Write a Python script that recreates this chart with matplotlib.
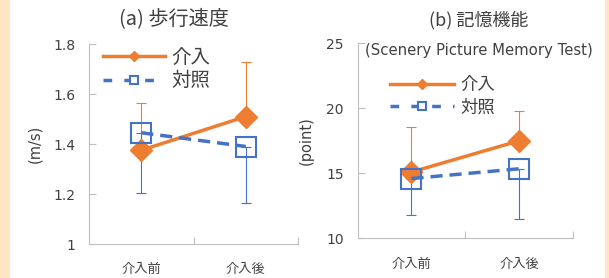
import matplotlib
matplotlib.use("Agg")
import matplotlib.pyplot as plt
from matplotlib.lines import Line2D

plt.rcParams['font.family'] = ['Noto Sans CJK JP', 'DejaVu Sans']

categories = ['介入前', '介入後']
series_names = ['介入', '対照']

# (a) walking speed
speed_int = [1.375, 1.51]
speed_int_err = [0.19, 0.22]      # upper only
speed_ctl = [1.445, 1.39]
speed_ctl_err = [0.24, 0.225]     # lower only

# (b) memory
mem_int = [15.1, 17.5]
mem_int_err = [3.45, 2.3]         # upper only
mem_ctl = [14.6, 15.35]
mem_ctl_err = [2.8, 3.9]          # lower only

ORANGE = '#ED7D31'
BLUE = '#4472C4'
GRAY = '#BFBFBF'
TXT = '#404040'
LATIN = 'DejaVu Sans'

fig = plt.figure(figsize=(6.09, 2.78), dpi=100)
fig.patch.set_facecolor('white')
# peach edge strips
fig.patches.append(plt.Rectangle((0, 0), 10/609, 1, transform=fig.transFigure,
                                 facecolor='#FEE6C5', edgecolor='none', zorder=0))
fig.patches.append(plt.Rectangle((605/609, 0), 4/609, 1, transform=fig.transFigure,
                                 facecolor='#FEE6C5', edgecolor='none', zorder=0))

ax1 = fig.add_axes([89/609, 1-244/278, 209/609, 200/278])
ax2 = fig.add_axes([357.7/609, 1-238.3/278, 215/609, 194.9/278])


def draw(ax, ivals, ierr, cvals, cerr, ylim, yticks, yticklabels, ylabel):
    x = list(range(len(categories)))
    ax.errorbar(x, ivals, yerr=[[0]*len(ierr), ierr], fmt='none', ecolor=ORANGE,
                elinewidth=0.8, capsize=3.5, capthick=0.8, zorder=2)
    ax.errorbar(x, cvals, yerr=[cerr, [0]*len(cerr)], fmt='none', ecolor=BLUE,
                elinewidth=0.8, capsize=3.5, capthick=0.8, zorder=2)
    ax.plot(x, ivals, color=ORANGE, lw=2.5, marker='D', markersize=11,
            markerfacecolor=ORANGE, markeredgecolor=ORANGE, zorder=3)
    ax.plot(x, cvals, color=BLUE, lw=2.5, dashes=(3.5, 2), marker='s', markersize=15,
            markerfacecolor='none', markeredgecolor=BLUE, markeredgewidth=1.5, zorder=4)
    ax.set_xlim(-0.5, 1.5)
    ax.set_ylim(*ylim)
    ax.set_yticks(yticks)
    ax.set_yticklabels(yticklabels, family=LATIN)
    ax.set_xticks(x)
    ax.set_xticklabels(categories)
    ax.set_xticks([0.5, 1.5], minor=True)
    ax.tick_params(axis='x', which='major', length=0, pad=14, labelsize=9.5, labelcolor=TXT)
    ax.tick_params(axis='x', which='minor', direction='in', length=5, color=GRAY, width=0.8)
    ax.tick_params(axis='y', direction='in', length=5, color=GRAY, width=0.8,
                   pad=10, labelsize=10, labelcolor=TXT)
    for s in ['top', 'right']:
        ax.spines[s].set_visible(False)
    for s in ['left', 'bottom']:
        ax.spines[s].set_color(GRAY)
        ax.spines[s].set_linewidth(0.8)
    ax.set_ylabel(ylabel, fontsize=10.5, color=TXT, family=LATIN)
    ax.patch.set_alpha(0)


draw(ax1, speed_int, speed_int_err, speed_ctl, speed_ctl_err, (1, 1.8),
     [1, 1.2, 1.4, 1.6, 1.8], ['1', '1.2', '1.4', '1.6', '1.8'], '(m/s)')
draw(ax2, mem_int, mem_int_err, mem_ctl, mem_ctl_err, (10, 25),
     [10, 15, 20, 25], ['10', '15', '20', '25'], '(point)')
ax1.yaxis.set_label_coords(-47/209, 0.5)
ax2.yaxis.set_label_coords(-44/215, 0.5)

fig.text(173.5/609, 1-20/278, '(a) 歩行速度', ha='center', va='center', fontsize=14.5, color=TXT)
fig.text(479/609, 1-20/278, '(b) 記憶機能', ha='center', va='center', fontsize=13, color=TXT)
fig.text(479/609, 1-51/278, '(Scenery Picture Memory Test)', ha='center', va='center',
         fontsize=10.7, color=TXT, family=LATIN)

h_int = Line2D([], [], color=ORANGE, lw=2.5, marker='D', markersize=5,
               markerfacecolor=ORANGE, markeredgecolor=ORANGE)
h_ctl = Line2D([], [], color=BLUE, lw=2.5, dashes=(2.5, 3.5), marker='s', markersize=6,
               markerfacecolor='white', markeredgecolor=BLUE, markeredgewidth=1.5)

fig.legend([h_int, h_ctl], series_names, loc='upper left',
           bbox_to_anchor=(103/609, 1-47/278), frameon=False, fontsize=14,
           handlelength=3.2, handletextpad=0.3, labelspacing=0.12,
           borderpad=0, borderaxespad=0, labelcolor=TXT)
fig.legend([h_int, h_ctl], series_names, loc='upper left',
           bbox_to_anchor=(390/609, 1-76/278), frameon=False, fontsize=12.5,
           handlelength=3.7, handletextpad=0.35, labelspacing=0.25,
           borderpad=0, borderaxespad=0, labelcolor=TXT)

fig.savefig('out.png', dpi=100)
